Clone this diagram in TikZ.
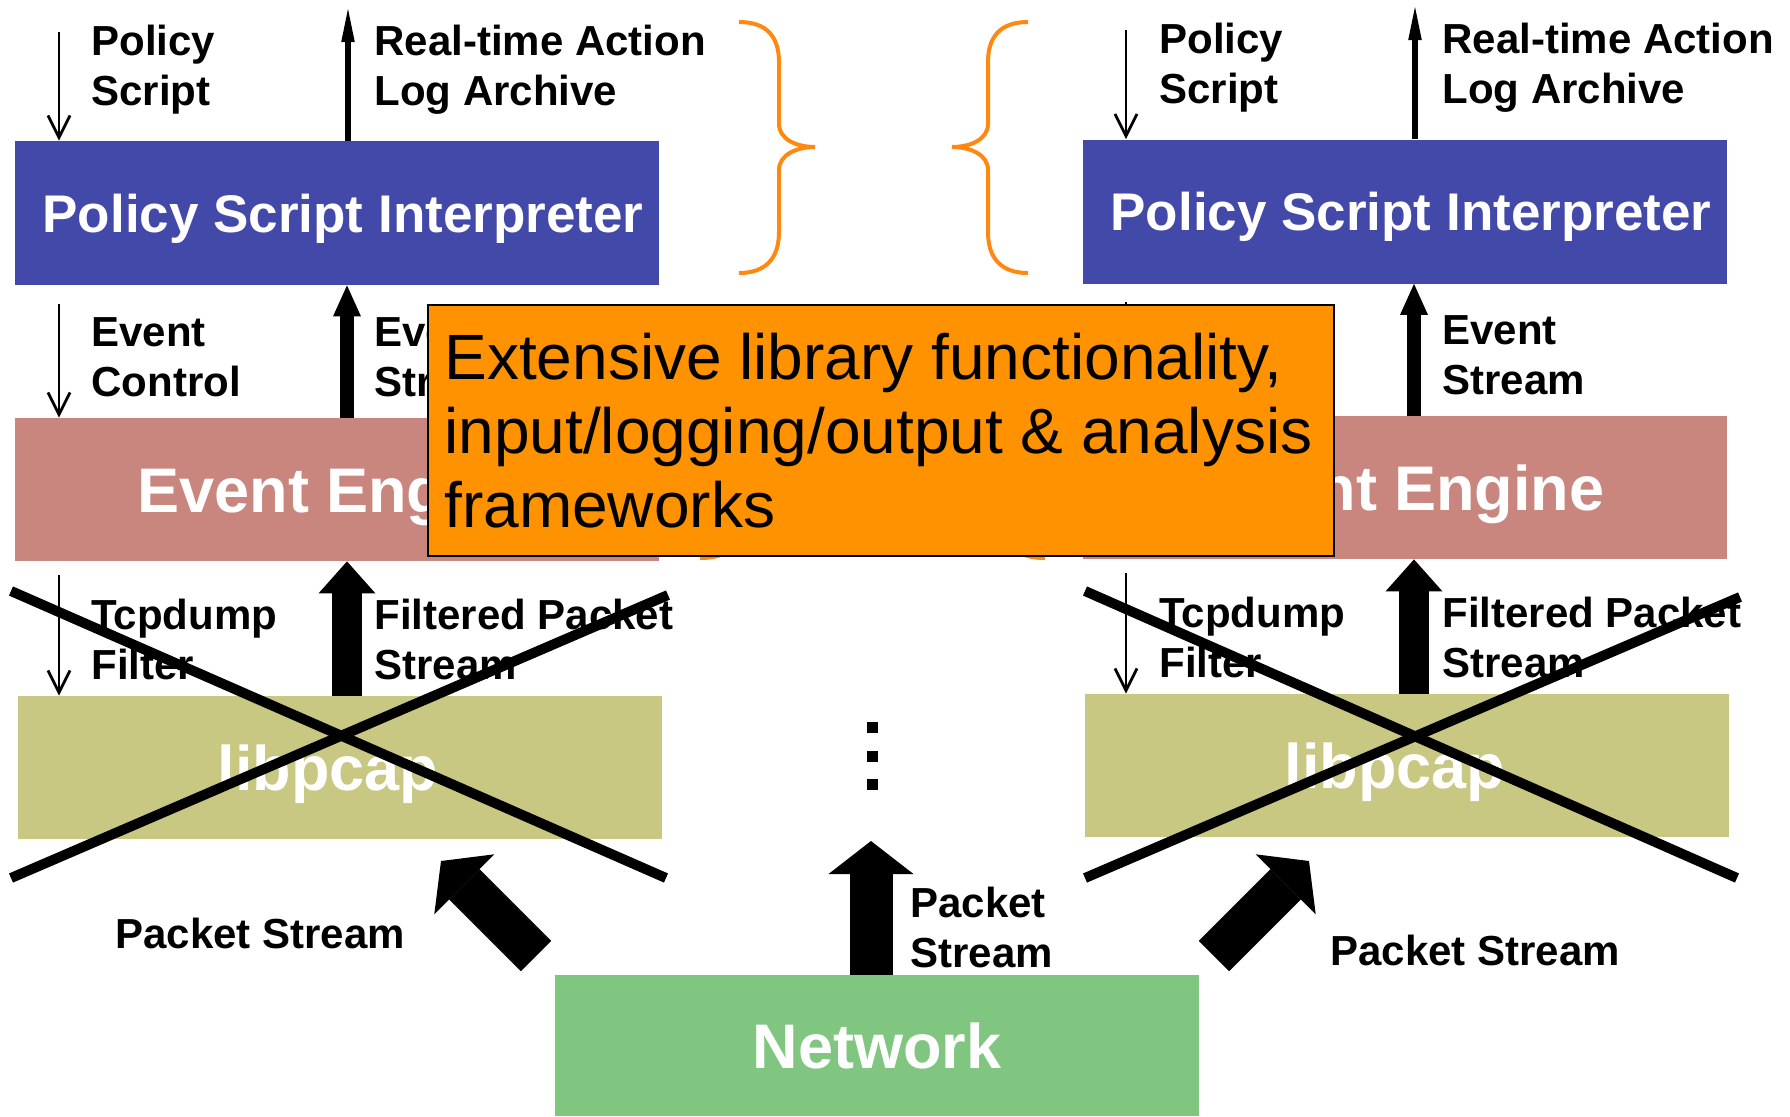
\documentclass[tikz,border=0pt]{standalone}
\usepackage{fontspec}
\setmainfont{Liberation Sans}
\usetikzlibrary{arrows.meta}
\definecolor{psiblue}{RGB}{67,73,168}
\definecolor{eepink}{RGB}{201,134,126}
\definecolor{pcapolive}{RGB}{200,200,130}
\definecolor{netgreen}{RGB}{128,198,128}
\definecolor{notebg}{RGB}{255,146,0}
\definecolor{braceorange}{RGB}{255,136,16}

\begin{document}
\begin{tikzpicture}[x=0.5pt,y=-0.5pt,
  stackbox/.style={draw=none, inner sep=0pt, minimum width=322pt, minimum height=71.5pt,
    text=white, font=\bfseries\fontsize{31.5}{36}\selectfont, text height=22.5pt, text depth=0pt},
  psibox/.style={stackbox, fill=psiblue, minimum height=72pt,
    font=\bfseries\fontsize{26.5}{30}\selectfont, text height=19pt,
    execute at begin node={\kern6pt}},
  eebox/.style={stackbox, fill=eepink},
  pcapbox/.style={stackbox, fill=pcapolive, execute at end node={\kern12pt}},
  netbox/.style={stackbox, fill=netgreen},
  % multi-line labels: the base anchor sits on the last line
  lbl/.style={inner sep=0pt, anchor=base west, align=left, font=\bfseries\fontsize{21}{25}\selectfont},
  thinarrow/.style={line width=1pt, -{Straight Barb[length=11pt, width=11pt, line width=1.4pt]}},
  rtarrow/.style={line width=3.4pt, -{Triangle[length=16.5pt, width=6.8pt, line width=0pt]}},
  esarrow/.style={line width=7pt, -{Triangle[length=15.5pt, width=14pt, line width=0pt]}},
  fparrow/.style={line width=15pt, -{Triangle[length=16pt, width=28.5pt, line width=0pt]}},
  bigarrow/.style={line width=21.5pt, -{Triangle[length=16.5pt, width=42.5pt, line width=0pt]}},
  xline/.style={line width=5pt},
  bracepath/.style={draw=braceorange, line width=2pt},
  dotsq/.style={fill=black, inner sep=0pt, minimum size=5.5pt},
  notebox/.style={draw=black, line width=1pt, fill=notebg, inner sep=0pt,
    minimum width=453pt, minimum height=125.5pt},
  notetext/.style={inner sep=0pt, anchor=base west, align=left, font=\fontsize{32}{37}\selectfont}
]
\path[use as bounding box, fill=white] (0,0) rectangle (1790,1116);

% braces between the two stacks
\draw[bracepath] (739,22) .. controls (766,22) and (779,36) .. (779,62) -- (779,124)
  .. controls (779,139) and (796,147) .. (815,147)
  .. controls (796,147) and (779,155) .. (779,170) -- (779,232)
  .. controls (779,258) and (766,273) .. (739,273);
\draw[bracepath] (1028,22) .. controls (1001,22) and (988,36) .. (988,62) -- (988,124)
  .. controls (988,139) and (971,147) .. (952,147)
  .. controls (971,147) and (988,155) .. (988,170) -- (988,232)
  .. controls (988,258) and (1001,273) .. (1028,273);
\draw[bracepath] (700,312) .. controls (727,312) and (740,326) .. (740,350) -- (740,405)
  .. controls (740,420) and (757,430) .. (776,430)
  .. controls (757,430) and (740,440) .. (740,455) -- (740,518)
  .. controls (740,545) and (730,558) .. (700,558);
\draw[bracepath] (1045,312) .. controls (1018,312) and (1005,326) .. (1005,350) -- (1005,405)
  .. controls (1005,420) and (988,430) .. (969,430)
  .. controls (988,430) and (1005,440) .. (1005,455) -- (1005,518)
  .. controls (1005,545) and (1015,558) .. (1045,558);

% component stacks
\node[psibox] (psiL) at (337,213) {Policy Script Interpreter};
\node[eebox] (eeL) at (337,489.5) {Event Engine};
\node[pcapbox] (pcapL) at (340,767.5) {libpcap};
\node[psibox] (psiR) at (1405,211.5) {Policy Script Interpreter};
\node[eebox] (eeR) at (1405,487.5) {Event Engine};
\node[pcapbox] (pcapR) at (1407,765.5) {libpcap};
\node[netbox, minimum height=70.5pt] (net) at (877,1045.5) {Network};

% arrow positions
\coordinate (psTopL) at (59,32);
\coordinate (ecTopL) at (59,304);
\coordinate (tfTopL) at (59,575);
\coordinate (rtTopL) at (348,9);
\coordinate (upL) at (347,0);
\coordinate (psTopR) at (1126,30);
\coordinate (ecTopR) at (1126,302);
\coordinate (tfTopR) at (1126,573);
\coordinate (rtTopR) at (1415,7);
\coordinate (upR) at (1414,0);

% left stack arrows
\draw[thinarrow] (psTopL) -- (psTopL |- psiL.north);
\draw[thinarrow] (ecTopL) -- (ecTopL |- eeL.north);
\draw[thinarrow] (tfTopL) -- (tfTopL |- pcapL.north);
\draw[rtarrow] (rtTopL |- psiL.north) -- (rtTopL);
\draw[esarrow] (upL |- eeL.north) -- (upL |- psiL.south);
\draw[fparrow] (upL |- pcapL.north) -- (upL |- eeL.south);

% right stack arrows
\draw[thinarrow] (psTopR) -- (psTopR |- psiR.north);
\draw[thinarrow] (ecTopR) -- (ecTopR |- eeR.north);
\draw[thinarrow] (tfTopR) -- (tfTopR |- pcapR.north);
\draw[rtarrow] (rtTopR |- psiR.north) -- (rtTopR);
\draw[esarrow] (upR |- eeR.north) -- (upR |- psiR.south);
\draw[fparrow] (upR |- pcapR.north) -- (upR |- eeR.south);

% packet streams from the network
\coordinate (midTip) at (871,841);
\draw[bigarrow] (midTip |- net.north) -- (midTip);
\coordinate (dlTail) at (536,956);
\coordinate (dlTip) at (441,861);
\draw[bigarrow] (dlTail) -- (dlTip);
\coordinate (drTail) at (1214,956);
\coordinate (drTip) at (1309,861);
\draw[bigarrow] (drTail) -- (drTip);
\node[dotsq] (dot1) at (872.5,727.5) {};
\node[dotsq] (dot2) at (872.5,756) {};
\node[dotsq] (dot3) at (872.5,784.5) {};

% labels (positions give the baseline of the last line)
\node[lbl] (lPolL) at (91,105) {Policy\\Script};
\node[lbl] (lRtL) at (374,105) {Real-time Action\\Log Archive};
\node[lbl] (lEcL) at (91,396) {Event\\Control};
\node[lbl] (lEsL) at (374,396) {Event\\Stream};
\node[lbl] (lTfL) at (91,679) {Tcpdump\\Filter};
\node[lbl] (lFpL) at (374,679) {Filtered Packet\\Stream};
\node[lbl] (lPolR) at (1159,103) {Policy\\Script};
\node[lbl] (lRtR) at (1442,103) {Real-time Action\\Log Archive};
\node[lbl] (lEsR) at (1442,394) {Event\\Stream};
\node[lbl] (lTfR) at (1159,677) {Tcpdump\\Filter};
\node[lbl] (lFpR) at (1442,677) {Filtered Packet\\Stream};
\node[lbl] (lPsL) at (115,948) {Packet Stream};
\node[lbl] (lPsM) at (910,967) {Packet\\Stream};
\node[lbl] (lPsR) at (1330,965) {Packet Stream};

% libpcap crossed out
\coordinate (xl1) at (11,591);
\coordinate (xl2) at (666,878);
\coordinate (xl3) at (11,878);
\coordinate (xl4) at (668,595);
\draw[xline] (xl1) -- (xl2);
\draw[xline] (xl3) -- (xl4);
\coordinate (xr1) at (1085,591);
\coordinate (xr2) at (1737,878);
\coordinate (xr3) at (1085,878);
\coordinate (xr4) at (1740,597);
\draw[xline] (xr1) -- (xr2);
\draw[xline] (xr3) -- (xr4);

% call-out on top
\node[notebox, anchor=north west] (ext) at (427,304) {};
\node[notetext] (extText) at (444,527) {Extensive library functionality,\\input/logging/output \& analysis\\frameworks};
\end{tikzpicture}
\end{document}
